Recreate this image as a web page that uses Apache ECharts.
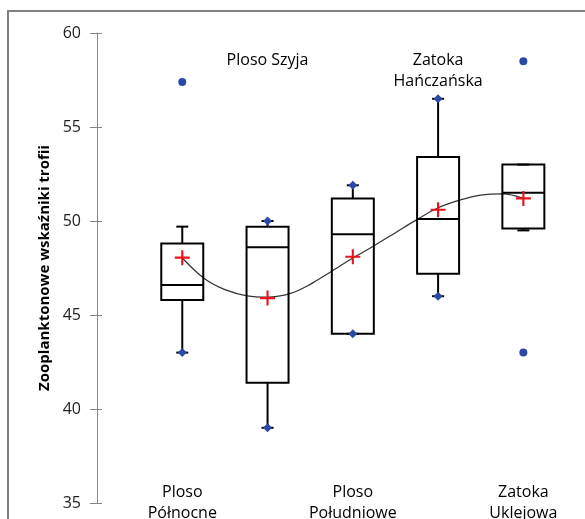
<!DOCTYPE html>
<html>
<head>
<meta charset="utf-8">
<script src="https://cdn.jsdelivr.net/npm/echarts@6/dist/echarts.min.js"></script>
<style>
  html, body { margin: 0; padding: 0; background: #fff; }
  #chart { width: 585px; height: 519px; }
</style>
</head>
<body>
<div id="chart"></div>
<script>
// categories, left to right
const categories = ['Ploso\nPółnocne', 'Ploso Szyja', 'Ploso\nPołudniowe', 'Zatoka\nHańczańska', 'Zatoka\nUklejowa']

// box stats: [x, lower whisker, Q1, median, Q3, upper whisker]
const boxes = [
  [1, 43.0, 45.8, 46.6, 48.8, 49.7],
  [2, 39.0, 41.4, 48.6, 49.7, 50.0],
  [3, 44.0, 44.0, 49.3, 51.2, 51.9],
  [4, 46.0, 47.2, 50.1, 53.4, 56.5],
  [5, 49.5, 49.6, 51.5, 53.0, 53.0]
]

// min / max markers (diamonds)
const extremes = [[1, 43.0], [2, 50.0], [2, 39.0], [3, 51.9], [3, 44.0], [4, 56.5], [4, 46.0]]

// outliers (dots)
const outliers = [[1, 57.4], [5, 58.5], [5, 43.0]]

// means (red crosses)
const means = [48.05, 45.9, 48.1, 50.6, 51.2]

// fitted trend curve
const trendX = [1.0, 1.25, 1.5, 1.76, 2.0, 2.27, 2.5, 2.74, 3.0, 3.24, 3.5, 3.76, 3.99, 4.26, 4.5, 4.76, 5.0]
const trendY = [48.03, 46.97, 46.35, 46.02, 45.95, 46.15, 46.63, 47.29, 48.03, 48.66, 49.38, 50.1, 50.68, 51.12, 51.38, 51.44, 51.2]

const yTicks = { min: 35, max: 60, interval: 5 }

const FONT = '"Open Sans", sans-serif'
const BLUE = '#2c49a6'
const LABEL_TOP = 59.1
const LABEL_BOTTOM = 36.17
const BOX_HALF = 21
const CAP_HALF = 6

function renderBox(params, api) {
  const x = api.value(0)
  const lo = api.coord([x, api.value(1)])
  const q1 = api.coord([x, api.value(2)])
  const med = api.coord([x, api.value(3)])
  const q3 = api.coord([x, api.value(4)])
  const hi = api.coord([x, api.value(5)])
  const cx = q1[0]
  const style = { stroke: '#000', lineWidth: 2, fill: null }
  const line = (x1, y1, x2, y2) => ({ type: 'line', shape: { x1, y1, x2, y2 }, style })
  return {
    type: 'group',
    children: [
      line(cx, q1[1], cx, lo[1]),
      line(cx, q3[1], cx, hi[1]),
      line(cx - CAP_HALF, lo[1], cx + CAP_HALF, lo[1]),
      line(cx - CAP_HALF, hi[1], cx + CAP_HALF, hi[1]),
      { type: 'rect', shape: { x: cx - BOX_HALF, y: q3[1], width: BOX_HALF * 2, height: q1[1] - q3[1] }, style },
      line(cx - BOX_HALF, med[1], cx + BOX_HALF, med[1])
    ]
  }
}

const labelData = categories.map((name, i) => ({
  name,
  value: [i + 1, i % 2 === 1 ? LABEL_TOP : LABEL_BOTTOM]
}))

const chart = echarts.init(document.getElementById('chart'))
chart.setOption({
  animation: false,
  backgroundColor: '#fff',
  textStyle: { fontFamily: FONT },
  grid: { left: 97, right: 19, top: 33, bottom: 16 },
  graphic: [{
    type: 'rect',
    shape: { x: 8, y: 11, width: 700, height: 700 },
    style: { stroke: '#7f7f7f', lineWidth: 2, fill: null },
    silent: true
  }],
  xAxis: { type: 'value', min: 0, max: 5.5, show: false },
  yAxis: [{
    type: 'value',
    ...yTicks,
    name: 'Zooplanktonowe wskaźniki trofii',
    nameLocation: 'middle',
    nameGap: 44,
    nameTextStyle: { color: '#000', fontSize: 15, fontWeight: 'bold', fontFamily: FONT },
    axisLine: { show: true, lineStyle: { color: '#868686', width: 1 } },
    axisTick: { show: true, length: 7, lineStyle: { color: '#868686' } },
    axisLabel: { color: '#222', fontSize: 16, margin: 16, fontFamily: FONT },
    splitLine: { show: false }
  }, {
    type: 'value',
    ...yTicks,
    position: 'left',
    axisLine: { show: false },
    axisTick: { show: true, inside: true, length: 5, lineStyle: { color: '#868686' } },
    axisLabel: { show: false },
    splitLine: { show: false }
  }],
  series: [
    {
      name: 'trend',
      type: 'line',
      smooth: 0.35,
      showSymbol: false,
      data: trendX.map((x, i) => [x, trendY[i]]),
      lineStyle: { color: '#333', width: 1.2 },
      emphasis: { disabled: true },
      z: 1
    },
    {
      name: 'boxes',
      type: 'custom',
      renderItem: renderBox,
      data: boxes,
      encode: { x: 0, y: [1, 2, 3, 4, 5] },
      z: 2
    },
    {
      name: 'extremes',
      type: 'scatter',
      symbol: 'diamond',
      symbolSize: 9,
      data: extremes,
      itemStyle: { color: BLUE, opacity: 1 },
      emphasis: { disabled: true },
      z: 3
    },
    {
      name: 'outliers',
      type: 'scatter',
      symbol: 'circle',
      symbolSize: 8,
      data: outliers,
      itemStyle: { color: BLUE, opacity: 1 },
      emphasis: { disabled: true },
      z: 3
    },
    {
      name: 'means',
      type: 'scatter',
      symbol: 'path://M-1,-7H1V-1H7V1H1V7H-1V1H-7V-1H-1Z',
      symbolSize: 15,
      data: means.map((v, i) => [i + 1, v]),
      itemStyle: { color: '#e8141c', opacity: 1 },
      emphasis: { disabled: true },
      z: 4
    },
    {
      name: 'labels',
      type: 'scatter',
      symbolSize: 1,
      itemStyle: { color: 'rgba(0,0,0,0)', opacity: 1 },
      data: labelData,
      label: {
        show: true,
        position: 'bottom',
        distance: 0,
        formatter: (p) => p.name,
        color: '#000',
        fontSize: 16,
        lineHeight: 21,
        fontFamily: FONT,
        align: 'center'
      },
      emphasis: { disabled: true },
      silent: true,
      z: 5
    }
  ]
})
</script>
</body>
</html>
